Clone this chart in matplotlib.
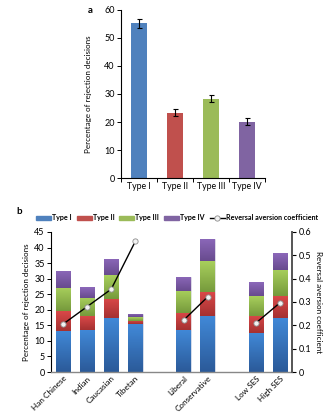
import numpy as np
import matplotlib
matplotlib.use("Agg")
import matplotlib.pyplot as plt
from matplotlib.colors import LinearSegmentedColormap

plt.rcParams['font.family'] = ['Lato', 'DejaVu Sans']

# -----------------------------
# data
# -----------------------------
types = ['Type I', 'Type II', 'Type III', 'Type IV']
a_values = [55.2, 23.3, 28.3, 20.1]
a_errors = [1.7, 1.3, 1.3, 1.2]

groups = ['Han Chinese', 'Indian', 'Caucasian', 'Tibetan', '',
          'Liberal', 'Conservative', '', 'Low SES', 'High SES']
group_pos = [0, 1, 2, 3, 5, 6, 8, 9]
type1 = [13.2, 13.6, 17.4, 15.4, 13.5, 18.1, 12.6, 17.4]
type2 = [6.3, 4.4, 6.2, 1.1, 5.5, 7.7, 5.5, 6.9]
type3 = [7.5, 5.9, 7.5, 1.1, 7.1, 9.8, 6.4, 8.6]
type4 = [5.5, 3.4, 5.2, 1.0, 4.5, 7.3, 4.4, 5.3]
coef = [0.205, 0.28, 0.355, 0.56, 0.222, 0.322, 0.21, 0.297]
coef_segments = [(0, 4), (4, 6), (6, 8)]

flat_colors = ['#4f81bd', '#c0504d', '#9bbb59', '#8064a2']
grad_colors = [('#2b5a99', '#4189d8'), ('#a53131', '#d94848'),
               ('#769a3c', '#a8cf5c'), ('#684b8e', '#8c68ba')]

fig = plt.figure(figsize=(3.35, 4.15), dpi=100)

# -----------------------------
# panel a
# -----------------------------
ax1 = fig.add_axes([0.361, 0.571, 0.430, 0.405])
xa = np.arange(len(types))
ax1.bar(xa, a_values, width=0.42, color=flat_colors, zorder=2)
ax1.errorbar(xa, a_values, yerr=a_errors, fmt='none', ecolor='black',
             elinewidth=0.8, capsize=1.8, capthick=0.8, zorder=3)
ax1.set_xlim(-0.5, 3.5)
ax1.set_ylim(0, 60)
ax1.set_yticks(range(0, 61, 10))
ax1.set_xticks(xa)
ax1.set_xticklabels(types, fontsize=6.3)
ax1.set_xticks(np.arange(-0.5, 3.6, 1), minor=True)
ax1.tick_params(axis='x', which='major', length=0, pad=3)
ax1.tick_params(axis='x', which='minor', length=3, width=0.7, direction='out')
ax1.tick_params(axis='y', labelsize=6.5, length=3, width=0.7, pad=1.5)
for s in ['top', 'right']:
    ax1.spines[s].set_visible(False)
for s in ['left', 'bottom']:
    ax1.spines[s].set_linewidth(0.8)
ax1.set_ylabel('Percentage of rejection decisions', fontsize=5.8, labelpad=9)
fig.text(0.262, 0.985, 'a', fontsize=7, fontweight='bold', ha='left', va='top')

# -----------------------------
# panel b
# -----------------------------
ax2 = fig.add_axes([0.152, 0.1036, 0.720, 0.3374])

stack = [type1, type2, type3, type4]
bottom = np.zeros(len(group_pos))
grad = np.linspace(0, 1, 64).reshape(-1, 1)
for i, vals in enumerate(stack):
    bars = ax2.bar(group_pos, vals, width=0.6, bottom=bottom,
                   color=flat_colors[i], edgecolor='#e8e8f0', linewidth=0.5,
                   zorder=2, label=types[i])
    cmap = LinearSegmentedColormap.from_list('g%d' % i, grad_colors[i])
    for b in bars:
        x0, y0 = b.get_x(), b.get_y()
        im = ax2.imshow(grad, cmap=cmap, origin='lower', aspect='auto',
                        extent=[x0, x0 + b.get_width(), y0, y0 + b.get_height()],
                        zorder=2.1, interpolation='bilinear')
        im.set_clip_path(b)
    bottom += np.array(vals)
ax2.set_xlim(-0.5, 9.5)
ax2.set_ylim(0, 45)
ax2.set_aspect('auto')

ax2.set_yticks(range(0, 46, 5))
ax2.tick_params(axis='y', labelsize=6.5, length=3, width=0.7, pad=1.5)
ax2.set_xticks(range(len(groups)))
ax2.set_xticklabels(groups, rotation=45, ha='right', rotation_mode='anchor',
                    fontsize=5.9)
ax2.tick_params(axis='x', length=0, pad=2)
ax2.spines['top'].set_visible(False)
ax2.spines['right'].set_visible(False)
ax2.spines['left'].set_linewidth(0.8)
ax2.spines['bottom'].set_color('#888888')
ax2.spines['bottom'].set_linewidth(1.0)
ax2.set_ylabel('Percentage of rejection decisions', fontsize=5.8, labelpad=3)

ax3 = ax2.twinx()
ax3.set_xlim(-0.5, 9.5)
ax3.set_ylim(0, 0.6)
ax3.set_yticks(np.arange(0, 0.61, 0.1))
ax3.set_yticklabels(['0', '0.1', '0.2', '0.3', '0.4', '0.5', '0.6'])
ax3.tick_params(axis='y', labelsize=6.5, length=3, width=0.8, pad=1.5)
for s in ['top', 'left', 'bottom']:
    ax3.spines[s].set_visible(False)
ax3.spines['right'].set_color('#555555')
ax3.spines['right'].set_linewidth(1.4)
line = None
for s0, s1 in coef_segments:
    line, = ax3.plot(group_pos[s0:s1], coef[s0:s1], color='black', lw=1.0,
                     marker='o', ms=3.8, mfc='#f2f2f2', mec='#8c8c8c',
                     mew=0.6, zorder=4, label='Reversal aversion coefficient')
ax3.set_ylabel('Reversal aversion coefficient', fontsize=5.8, rotation=270,
               labelpad=8)

leg_handles = [plt.Rectangle((0, 0), 1, 1, color=c) for c in flat_colors] + [line]
leg = fig.legend(leg_handles, types + ['Reversal aversion coefficient'],
                 loc='center left', bbox_to_anchor=(0.108, 0.475), ncol=5,
                 frameon=False, fontsize=5.1, handlelength=2.1,
                 handleheight=0.45, handletextpad=0.15, columnspacing=0.7,
                 borderpad=0, borderaxespad=0)
for t in leg.get_texts():
    t.set_fontweight('bold')
fig.text(0.05, 0.49, 'b', fontsize=7, fontweight='bold', ha='left', va='center')

fig.savefig('out.png', dpi=100)
